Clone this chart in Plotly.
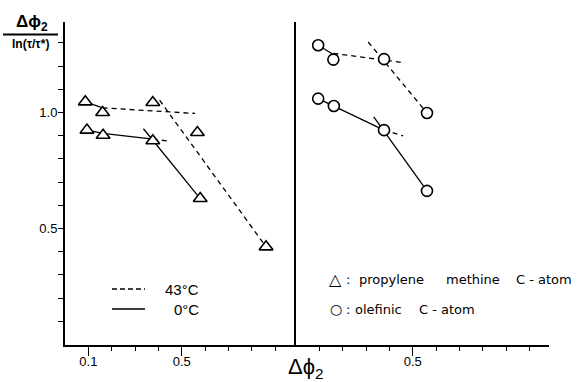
import plotly.graph_objects as go

# ---- data ----
# left panel: propylene methine C-atom (triangles)
tri_43_x = [0.087, 0.161, 0.376, 0.567, 0.861]
tri_43_y = [1.046, 1.000, 1.043, 0.914, 0.421]
tri_0_x = [0.094, 0.163, 0.376, 0.579]
tri_0_y = [0.924, 0.902, 0.878, 0.629]
# right panel: olefinic C-atom (circles)
cir_43_x = [0.095, 0.160, 0.377, 0.561]
cir_43_y = [1.290, 1.228, 1.230, 0.998]
cir_0_x = [0.095, 0.162, 0.377, 0.561]
cir_0_y = [1.060, 1.028, 0.924, 0.662]

# fitted straight-line segments (x pair, y pair)
fit_tri_43 = [([0.087, 0.161], [1.046, 1.020], "solid"),
              ([0.161, 0.557], [1.020, 0.996], "dash"),
              ([0.405, 0.861], [1.053, 0.421], "dash")]
fit_tri_0 = [([0.094, 0.163, 0.376], [0.924, 0.910, 0.885], "solid"),
             ([0.376, 0.450], [0.885, 0.876], "dash"),
             ([0.336, 0.579], [0.930, 0.629], "solid")]
fit_cir_43 = [([0.095, 0.160], [1.290, 1.250], "solid"),
              ([0.160, 0.466], [1.255, 1.214], "dash"),
              ([0.309, 0.561], [1.304, 0.998], "dash")]
fit_cir_0 = [([0.095, 0.162, 0.377], [1.060, 1.028, 0.924], "solid"),
             ([0.377, 0.459], [0.924, 0.899], "dash"),
             ([0.333, 0.561], [0.981, 0.662], "solid")]

y_ticks = [0.1, 0.2, 0.3, 0.4, 0.5, 0.6, 0.7, 0.8, 0.9, 1.0, 1.1, 1.2, 1.3]
y_tick_text = ["0.5" if v == 0.5 else ("1.0" if v == 1.0 else "") for v in y_ticks]
x_ticks_left = [0.1, 0.2, 0.3, 0.4, 0.5, 0.6, 0.7, 0.8, 0.9]
x_ticks_right = [0.1, 0.2, 0.3, 0.4, 0.5, 0.6, 0.7, 0.8, 0.9, 1.0]
x_long_left = [0.1, 0.5]
x_long_right = [0.5]
x_labels_left = {0.1: "0.1", 0.5: "0.5"}
x_labels_right = {0.5: "0.5"}

NB = "\u00a0"
legend_temp = ["43°C", "0°C"]
# symbol key: (symbol, words)
legend_symbols = [("△", ["propylene", "methine", "C" + NB + "-" + NB + "atom"]),
                  ("○", ["olefinic", "C" + NB + "-" + NB + "atom"])]
legend_word_x = [[357, 444, 514], [353, 417]]

FONT = "Liberation Sans, Arial, sans-serif"
KEYFONT = "DejaVu Sans, sans-serif"
W, H = 581, 382

fig = go.Figure()

def add_fits(segs, xa, ya):
    for xs, ys, d in segs:
        fig.add_trace(go.Scatter(x=xs, y=ys, mode="lines", xaxis=xa, yaxis=ya,
                                 line=dict(color="black", width=1.3,
                                           dash="solid" if d == "solid" else "5px,4px"),
                                 showlegend=False, hoverinfo="skip"))

add_fits(fit_tri_43, "x", "y")
add_fits(fit_tri_0, "x", "y")
add_fits(fit_cir_43, "x2", "y2")
add_fits(fit_cir_0, "x2", "y2")

for xs, ys in [(tri_43_x, tri_43_y), (tri_0_x, tri_0_y)]:
    fig.add_trace(go.Scatter(x=xs, y=ys, mode="markers", xaxis="x", yaxis="y",
                             marker=dict(symbol="triangle-up", size=12, color="white",
                                         line=dict(color="black", width=1.6)),
                             showlegend=False))
for xs, ys in [(cir_43_x, cir_43_y), (cir_0_x, cir_0_y)]:
    fig.add_trace(go.Scatter(x=xs, y=ys, mode="markers", xaxis="x2", yaxis="y2",
                             marker=dict(symbol="circle", size=11, color="white",
                                         line=dict(color="black", width=1.6)),
                             showlegend=False))
# invisible traces so the long-tick overlay axes are drawn
fig.add_trace(go.Scatter(x=[0.1], y=[None], xaxis="x3", yaxis="y", mode="markers",
                         showlegend=False, hoverinfo="skip"))
fig.add_trace(go.Scatter(x=[0.5], y=[None], xaxis="x4", yaxis="y2", mode="markers",
                         showlegend=False, hoverinfo="skip"))

px_per_x = 233.5
px_per_y = 232.0
x0_left, x0_right, x_end = 65, 296, 549
y0_pix, y_top_pix = 344.5, 22
xr_left = [0, (x0_right - x0_left) / px_per_x]
xr_right = [0, (x_end - x0_right) / px_per_x]

ax_common = dict(showgrid=False, zeroline=False, showline=True, linecolor="black",
                 linewidth=2, ticks="outside", tickcolor="black", tickwidth=1.3,
                 automargin=False,
                 tickfont=dict(family=FONT, size=13, color="black"))
long_ticks = dict(showgrid=False, zeroline=False, showline=False, ticks="outside",
                  tickcolor="black", tickwidth=1.3, ticklen=10, showticklabels=False,
                  automargin=False, side="bottom", tickmode="array")

fig.update_layout(
    width=W, height=H, margin=dict(l=0, r=0, t=0, b=0, autoexpand=False),
    paper_bgcolor="white", plot_bgcolor="white", showlegend=False,
    xaxis=dict(**ax_common, domain=[x0_left / W, x0_right / W], range=xr_left,
               tickmode="array", tickvals=x_ticks_left,
               ticktext=[x_labels_left.get(v, "") for v in x_ticks_left],
               ticklen=4, anchor="y"),
    xaxis2=dict(**ax_common, domain=[x0_right / W, x_end / W], range=xr_right,
                tickmode="array", tickvals=x_ticks_right,
                ticktext=[x_labels_right.get(v, "") for v in x_ticks_right],
                ticklen=4, anchor="y2"),
    xaxis3=dict(**long_ticks, overlaying="x", anchor="y", range=xr_left,
                tickvals=x_long_left),
    xaxis4=dict(**long_ticks, overlaying="x2", anchor="y2", range=xr_right,
                tickvals=x_long_right),
    yaxis=dict(**ax_common, domain=[1 - y0_pix / H, 1 - y_top_pix / H],
               range=[0, (y0_pix - y_top_pix) / px_per_y],
               tickmode="array", tickvals=y_ticks, ticktext=y_tick_text, ticklen=5,
               ticklabelstandoff=-2, anchor="x"),
    yaxis2=dict(showgrid=False, zeroline=False, showline=True, linecolor="black",
                linewidth=2, ticks="", showticklabels=False, automargin=False,
                domain=[1 - y0_pix / H, 1 - y_top_pix / H],
                range=[0, (y0_pix - y_top_pix) / px_per_y], anchor="x2"),
)

def note(x, y, text, size, xanchor="center", family=FONT):
    fig.add_annotation(xref="paper", yref="paper", x=x / W, y=1 - y / H,
                       xanchor=xanchor, yanchor="middle", text=text, showarrow=False,
                       font=dict(family=family, size=size, color="black"))

# y-axis title (fraction)
note(32, 23, "<b>Δϕ<sub>2</sub></b>", 17)
fig.add_shape(type="line", xref="paper", yref="paper", x0=3 / W, x1=58 / W,
              y0=1 - 34.5 / H, y1=1 - 34.5 / H, line=dict(color="black", width=2))
note(30, 44, "<b>ln(τ/τ*)</b>", 12)
# x-axis title
note(306, 368, "Δϕ<sub>2</sub>", 22)

# temperature key (left panel)
for i, (lab, d) in enumerate(zip(legend_temp, ["5px,3px", "solid"])):
    ypix = 289 + 20 * i
    fig.add_shape(type="line", xref="paper", yref="paper", x0=112 / W, x1=145 / W,
                  y0=1 - ypix / H, y1=1 - ypix / H,
                  line=dict(color="black", width=1.3, dash=d))
    note(201, ypix, lab, 15, xanchor="right")

# symbol key (right panel)
for i, ((sym, words), xs) in enumerate(zip(legend_symbols, legend_word_x)):
    ypix = 279 + 30 * i
    note(335.5, ypix, sym, 16 if i == 0 else 14, family=KEYFONT)
    note(344, ypix, ":", 13, xanchor="left", family=KEYFONT)
    for w, xw in zip(words, xs):
        note(xw, ypix, w, 13, xanchor="left", family=KEYFONT)

fig.write_html("out.html", post_script="document.body.style.margin='0';",
               config={"displayModeBar": False})
